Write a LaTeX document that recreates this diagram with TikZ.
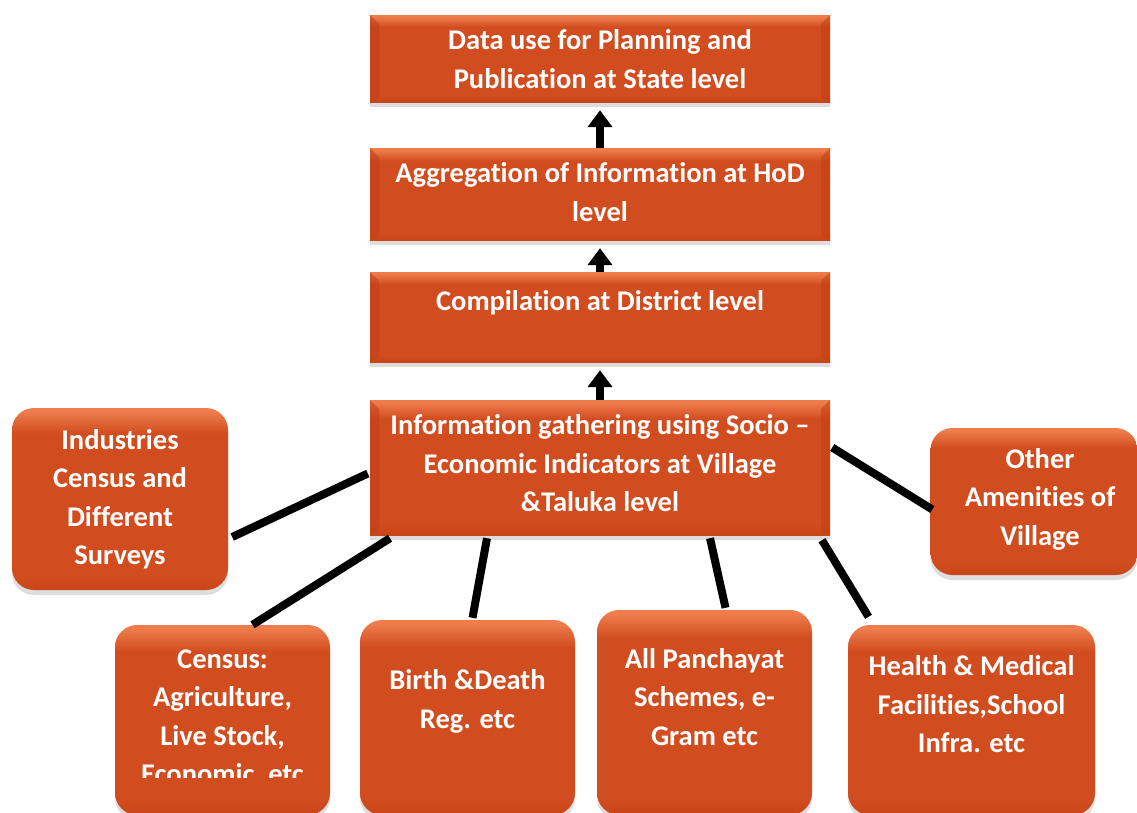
\documentclass[tikz,border=0pt]{standalone}
\usepackage{fontspec}
\setmainfont{Carlito}[Ligatures=NoCommon]
\usetikzlibrary{arrows.meta,shadows,calc}
\definecolor{boxtop}{HTML}{EE7C4C}
\definecolor{boxmid}{HTML}{D14C1E}
\definecolor{boxbot}{HTML}{C94416}
\definecolor{boxside}{HTML}{BF4015}
\pgfdeclareverticalshading{boxshade}{100bp}{color(0bp)=(boxbot); color(25bp)=(boxbot); color(29bp)=(boxmid); color(68bp)=(boxmid); color(74bp)=(boxtop); color(100bp)=(boxtop)}
\tikzset{
  boxbase/.style={draw=none, shade, shading=boxshade, inner sep=0pt,
    drop shadow={shadow xshift=0pt, shadow yshift=-5pt, opacity=0.22, fill=black!60}},
  sqbox/.style={boxbase, rectangle, minimum width=460pt,
    path picture={
      \fill[boxside, opacity=0.55] (path picture bounding box.north west) -- ++(9pt,-9pt) |- ([xshift=9pt,yshift=5pt]path picture bounding box.south west) -- (path picture bounding box.south west) -- cycle;
      \fill[boxside, opacity=0.55] (path picture bounding box.north east) -- ++(-9pt,-9pt) |- ([xshift=-9pt,yshift=5pt]path picture bounding box.south east) -- (path picture bounding box.south east) -- cycle;
    }},
  rndbox/.style={boxbase, rectangle, rounded corners=22pt},
  txt/.style={text=white, font=\fontsize{28.5}{38.5}\selectfont\bfseries, align=center, inner sep=0pt},
  uparrow/.style={line width=8pt, -{Triangle[width=24pt,length=17pt]}, shorten >=8pt},
  link/.style={line width=8pt}
}
\begin{document}
\begin{tikzpicture}[x=1pt,y=-1pt]
\useasboundingbox (0,0) rectangle (1137,812);
% main column
\node[sqbox, minimum height=87pt] (b1) at (600,58.5) {};
\node[sqbox, minimum height=92pt] (b2) at (600,194) {};
\node[sqbox, minimum height=90pt] (b3) at (600,317) {};
\node[sqbox, minimum height=135pt] (b4) at (600,467.5) {};
\node[txt] (t1) at (600,59) {Data use for Planning and\\Publication at State level};
\node[txt] (t2) at (600,192) {Aggregation of Information at HoD\\level};
\node[txt] (t3) at (600,303) {Compilation at District level};
\node[txt] (t4) at (600,463.5) {Information gathering using Socio --\\Economic Indicators at Village\\\&Taluka level};
% side boxes
\node[rndbox, minimum width=216pt, minimum height=182pt] (ind) at (120,499) {};
\node[txt] (tind) at (120,499) {Industries\\Census and\\Different\\Surveys};
\node[rndbox, minimum width=207pt, minimum height=147pt] (oth) at (1034,501.5) {};
\node[txt] (toth) at (1040,499) {Other\\Amenities of\\Village};
% bottom boxes
\node[rndbox, minimum width=215pt, minimum height=190pt] (cen) at (222.5,720) {};
\begin{scope}
  \clip (115,625) rectangle (330,777);
  \node[txt] (tcen) at (222.5,718.5) {Census:\\Agriculture,\\Live Stock,\\Economic, etc};
\end{scope}
\node[rndbox, minimum width=215pt, minimum height=195pt] (bir) at (467.5,717.5) {};
\node[txt] (tbir) at (467.5,701.5) {Birth \&Death\\Reg. etc};
\node[rndbox, minimum width=215pt, minimum height=205pt] (pan) at (704.5,712.5) {};
\node[txt] (tpan) at (704.5,697) {All Panchayat\\Schemes, e-\\Gram etc};
\node[rndbox, minimum width=247pt, minimum height=190pt] (hea) at (971.5,720) {};
\node[txt] (thea) at (971.5,704.5) {Health \& Medical\\Facilities,School\\Infra. etc};
% arrows
\draw[uparrow] (b2.north) -- (b1.south);
\draw[uparrow] (b3.north) -- (b2.south);
\draw[uparrow] (b4.north) -- (b3.south);
% links
\draw[link] ([xshift=4pt,yshift=-38pt]ind.east) -- ([xshift=-2pt,yshift=-6pt]b4.west);
\draw[link] ([xshift=30pt]cen.north) -- ([xshift=-210pt,yshift=-3pt]b4.south);
\draw[link] ([xshift=5pt,yshift=2pt]bir.north) -- ([xshift=-113pt,yshift=-3pt]b4.south);
\draw[link] ([xshift=21pt,yshift=2pt]pan.north) -- ([xshift=110pt,yshift=-3pt]b4.south);
\draw[link] ([xshift=-103pt,yshift=8pt]hea.north) -- ([xshift=222pt,yshift=-5pt]b4.south);
\draw[link] ([xshift=2pt,yshift=20pt]b4.east) -- ([xshift=2pt,yshift=-8pt]oth.west);
\end{tikzpicture}
\end{document}
